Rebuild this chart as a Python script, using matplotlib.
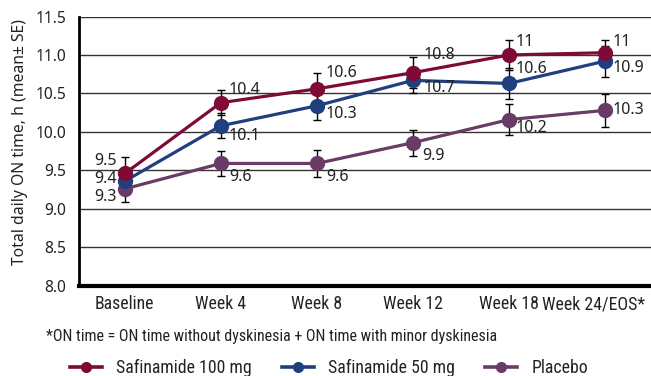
import numpy as np
import matplotlib.pyplot as plt
from matplotlib.lines import Line2D
from matplotlib.font_manager import FontProperties
from matplotlib.transforms import ScaledTranslation

visits = ["Baseline", "Week 4", "Week 8", "Week 12", "Week 18", "Week 24/EOS*"]

safi100 = [9.46, 10.38, 10.56, 10.77, 11.0, 11.03]
safi100_se = [0.21, 0.16, 0.21, 0.2, 0.2, 0.17]

safi50 = [9.36, 10.08, 10.34, 10.67, 10.63, 10.92]
safi50_se = [0.15, 0.16, 0.19, 0.17, 0.2, 0.2]

placebo = [9.26, 9.59, 9.59, 9.86, 10.16, 10.28]
placebo_se = [0.17, 0.16, 0.17, 0.17, 0.2, 0.21]

red = "#7d0b36"
blue = "#1f3f7e"
purple = "#693b66"

cond = ["Roboto Condensed", "DejaVu Sans"]
narrow = FontProperties(family=cond, stretch="condensed", size=12.8)
note_font = FontProperties(family=cond, stretch="condensed", size=11.5)
plain = ["Noto Sans", "DejaVu Sans"]

fig = plt.figure(figsize=(6.51, 3.76), dpi=100)
ax = fig.add_axes([0.121, 0.240, 0.879, 0.716])

x = np.arange(len(visits))

series = [
    (safi100, safi100_se, red, "Safinamide 100 mg"),
    (safi50, safi50_se, blue, "Safinamide 50 mg"),
    (placebo, placebo_se, purple, "Placebo"),
]

for vals, se, col, name in series:
    ax.errorbar(x, vals, yerr=se, fmt="none", ecolor="black", elinewidth=1,
                capsize=3, capthick=1, zorder=3)
for vals, se, col, name in reversed(series):
    ax.plot(x, vals, "-o", color=col, lw=2.3, ms=10, zorder=4)

def lab(v):
    return "{:g}".format(round(v, 1))

# label offsets in pixels (dx, dy) for each point
off100 = [(-8, 12), (8, 13), (9, 16), (11, 18), (7, 13), (8, 11)]
off50 = [(-8, 2), (8, -10), (9, -8), (11, -8), (7, 14), (8, -7)]
offpl = [(-8, -8), (8, -14), (9, -14), (9, -13), (7, -8), (8, 0)]

for vals, offs in [(safi100, off100), (safi50, off50), (placebo, offpl)]:
    for i, v in enumerate(vals):
        dx, dy = offs[i]
        ha = "right" if dx < 0 else "left"
        ax.annotate(lab(v), (x[i], v), xytext=(dx, dy), textcoords="offset pixels",
                    ha=ha, va="center", fontsize=11.5, family=plain,
                    color="#222222", zorder=5)

ax.set_xlim(-0.48, 5.48)
ax.set_ylim(8.0, 11.5)
ax.set_yticks(np.arange(8.0, 11.51, 0.5))
ax.set_yticklabels(["{:.1f}".format(t) for t in np.arange(8.0, 11.51, 0.5)],
                   family=plain, fontsize=11.2, color="#222222")
ax.set_xticks(x)
ax.set_xticklabels(visits, fontproperties=narrow, color="#222222")
ax.tick_params(length=0, pad=9)
ax.tick_params(axis="x", pad=7)

ax.grid(axis="y", color="#333333", lw=1)
ax.set_axisbelow(True)
for s in ["top", "right"]:
    ax.spines[s].set_visible(False)
ax.spines["left"].set_linewidth(2)
ax.spines["bottom"].set_linewidth(3)
ax.spines["left"].set_zorder(6)
ax.spines["bottom"].set_zorder(6)

ax.set_ylabel("Total daily ON time, h (mean\u00b1 SE)", family=plain,
              fontsize=11.3, color="#222222")
ax.yaxis.set_label_coords(-0.088, 0.532)

fig.text(46 / 651, 1 - 337 / 376, "*ON time = ON time without dyskinesia + ON time with minor dyskinesia",
         fontproperties=note_font, color="#222222", va="center", ha="left")

handles = [Line2D([0], [0], color=c, lw=2.6, marker="o", ms=7) for _, _, c, _ in series]
fig.legend(handles, [n for *_, n in series], loc="center left",
           bbox_to_anchor=(70 / 651, 1 - 368 / 376), borderpad=0, borderaxespad=0,
           ncol=3, frameon=False, prop=narrow,
           handlelength=1.8, columnspacing=1.7, handletextpad=0.8,
           labelcolor="#222222")

# nudge the last visit label left so it stays inside the figure
last = ax.get_xticklabels()[-1]
last.set_transform(last.get_transform() + ScaledTranslation(-0.11, 0, fig.dpi_scale_trans))

fig.savefig("out.png", dpi=100)
